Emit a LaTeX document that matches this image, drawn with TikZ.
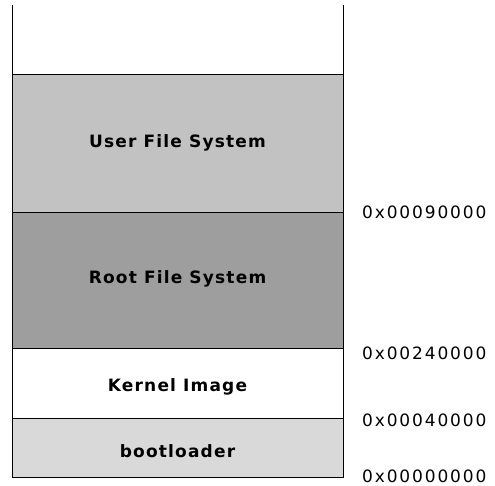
\documentclass[tikz,border=0pt]{standalone}
\usepackage{fontspec}
\setmainfont{DejaVu Sans}
\usepackage{tikz}
\usetikzlibrary{positioning,calc}
\tikzset{
  part/.style={draw,line width=0.8pt,fill=#1,minimum width=331pt,inner sep=0pt,outer sep=0pt},
  part/.default={white},
  lbl/.style={anchor=base,inner sep=0pt,font=\fontsize{17}{20}\selectfont\bfseries\addfontfeature{LetterSpace=7}},
  addr/.style={anchor=base west,inner sep=0pt,font=\fontsize{17}{20}\selectfont\addfontfeature{LetterSpace=11}},
}
\definecolor{userfs}{gray}{0.76}
\definecolor{rootfs}{gray}{0.62}
\definecolor{bootfs}{gray}{0.85}

\begin{document}
\begin{tikzpicture}[x=1pt,y=1pt]
 \useasboundingbox (0,0) rectangle (495,486);
 % ---- flash partitions
 \node[part=userfs,minimum height=138pt] (user) at (177.5,343){};
 \node[part=rootfs,minimum height=136pt,below=0pt of user] (root){};
 \node[part,minimum height=70pt,below=0pt of root] (kernel){};
 \node[part=bootfs,minimum height=59pt,below=0pt of kernel] (boot){};
 % ---- open top
 \draw[line width=0.8pt] (user.north west)--++(0,69);
 \draw[line width=0.8pt] (user.north east)--++(0,69);
 % ---- partition names
 \node[lbl] (userlbl) at ([yshift=-5pt]user.center){User File System};
 \node[lbl] (rootlbl) at ([yshift=-4pt]root.center){Root File System};
 \node[lbl] (kernellbl) at ([yshift=-9pt]kernel.center){Kernel Image};
 \node[lbl] (bootlbl) at ([yshift=-10pt]boot.center){bootloader};
 % ---- addresses
 \node[addr] (a1) at (362,267){0x00090000};
 \node[addr] (a2) at (362,126){0x00240000};
 \node[addr] (a3) at (362,59){0x00040000};
 \node[addr] (a4) at (362,3){0x00000000};
\end{tikzpicture}
\end{document}
